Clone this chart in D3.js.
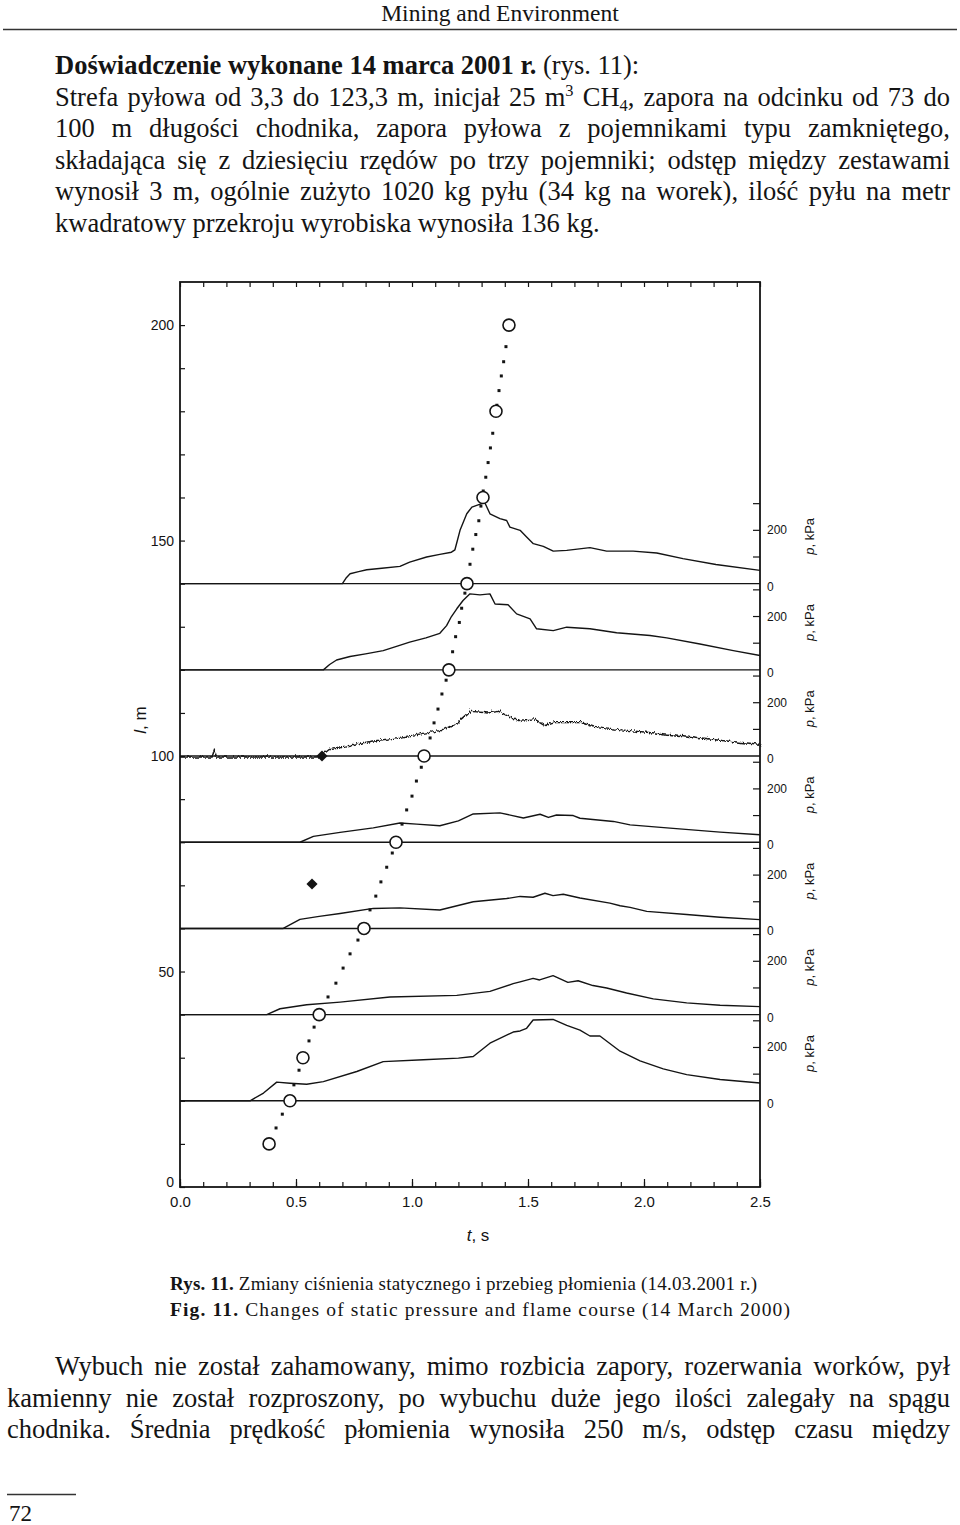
<!DOCTYPE html>
<html><head><meta charset="utf-8">
<script src="https://cdn.jsdelivr.net/npm/d3@7"></script>
<style>body{margin:0;background:#fff} svg{display:block} text{white-space:pre}</style>
</head><body>
<svg id="page" width="960" height="1525"></svg>
<script>
// ---------------- DATA ----------------
const tTickLabels = [0.0, 0.5, 1.0, 1.5, 2.0, 2.5];
const lTickLabels = [0, 50, 100, 150, 200];
const pTickMarks = [100, 200, 300];
const pTickLabels = [0, 200];
const sensorPositions = [140, 120, 100, 80, 60, 40, 20]; // m, baseline of each pressure trace

// pressure traces [t (s), p (kPa)], top to bottom
const trace140 = [[0,0],[0.70,0],[0.715,20],[0.733,37],[0.77,45],[0.805,52],[0.87,58],[0.948,65],[0.99,81],[1.063,100],[1.12,110],[1.17,118],[1.185,127],[1.195,160],[1.207,200],[1.236,262],[1.258,287],[1.306,302],[1.316,300],[1.336,262],[1.379,244],[1.408,237],[1.422,212],[1.466,200],[1.494,175],[1.523,150],[1.566,140],[1.609,122],[1.667,125],[1.767,135],[1.839,122],[1.953,122],[2.055,115],[2.168,94],[2.31,72],[2.5,50]];
const trace120 = [[0,0],[0.618,0],[0.645,20],[0.675,37],[0.733,50],[0.80,60],[0.876,72],[0.94,90],[0.99,104],[1.06,120],[1.12,137],[1.149,166],[1.17,200],[1.193,229],[1.22,260],[1.25,285],[1.293,281],[1.336,285],[1.358,247],[1.414,244],[1.451,210],[1.509,191],[1.537,154],[1.609,147],[1.667,160],[1.767,154],[1.882,139],[2.026,129],[2.098,120],[2.241,97],[2.385,72],[2.5,54]];
const trace100 = [[0,0],[0.13,0],[0.14,30],[0.15,0],[0.59,0],[0.633,31],[0.70,40],[0.76,50],[0.83,60],[0.905,69],[1.0,82],[1.12,100],[1.193,131],[1.25,175],[1.322,169],[1.365,175],[1.451,137],[1.522,143],[1.565,121],[1.608,133],[1.724,133],[1.78,115],[1.897,102],[2.04,90],[2.184,78],[2.328,62],[2.5,47]];
const trace80 = [[0,0],[0.517,0],[0.575,22],[0.69,37],[0.833,54],[0.948,72],[1.02,68],[1.12,62],[1.20,80],[1.264,106],[1.379,110],[1.48,91],[1.552,105],[1.588,93],[1.623,102],[1.695,100],[1.724,90],[1.868,78],[1.94,65],[2.112,53],[2.328,38],[2.5,28]];
const trace60 = [[0,0],[0.445,0],[0.517,34],[0.60,45],[0.69,56],[0.833,75],[0.948,77],[1.12,69],[1.264,100],[1.408,112],[1.466,120],[1.522,117],[1.573,132],[1.608,123],[1.652,128],[1.724,114],[1.853,95],[1.897,85],[1.94,79],[2.012,64],[2.184,52],[2.328,42],[2.5,33]];
const trace40 = [[0,0],[0.374,0],[0.431,22],[0.546,37],[0.69,47],[0.905,66],[1.193,72],[1.336,87],[1.436,116],[1.466,123],[1.522,136],[1.55,130],[1.608,146],[1.672,121],[1.716,127],[1.78,109],[1.839,100],[1.925,81],[2.04,59],[2.184,44],[2.328,35],[2.5,30]];
const trace20 = [[0,0],[0.302,0],[0.36,29],[0.417,70],[0.474,66],[0.546,62],[0.618,72],[0.762,110],[0.876,147],[1.049,154],[1.20,160],[1.264,166],[1.336,216],[1.436,258],[1.466,262],[1.494,272],[1.522,303],[1.608,305],[1.667,283],[1.724,265],[1.767,243],[1.81,243],[1.897,186],[1.983,150],[2.083,120],[2.184,98],[2.328,80],[2.5,67]];
const traces = [trace140, trace120, trace100, trace80, trace60, trace40, trace20];

// flame front: sensor circles [t (s), l (m)]
const flameCircles = [[0.384,10],[0.474,20],[0.530,30],[0.600,40],[0.793,60],[0.931,80],[1.052,100],[1.159,120],[1.237,140],[1.306,160],[1.362,180],[1.418,200]];
// dotted flame course [t, l]
const flameDots = [[0.414,13.7],[0.441,16.9],[0.491,23.7],[0.513,27.1],[0.556,33.9],[0.578,37.1],[0.638,44.1],[0.672,47.3],[0.703,50.8],[0.733,54.1],[0.767,57.3],[0.819,64.3],[0.844,67.5],[0.866,70.8],[0.891,74.2],[0.915,77.5],[0.957,84.2],[0.977,87.5],[1.0,90.7],[1.019,94.2],[1.04,97.4],[1.078,104.2],[1.095,107.7],[1.112,110.9],[1.129,114.4],[1.147,117.6],[1.175,124.2],[1.188,127.7],[1.204,131.0],[1.214,134.3],[1.228,137.8],[1.25,144.5],[1.262,148.0],[1.275,151.4],[1.288,154.6],[1.297,158.0],[1.307,161.5],[1.318,164.7],[1.328,168.1],[1.338,171.5],[1.348,174.9],[1.366,181.4],[1.375,184.8],[1.385,188.2],[1.395,191.5],[1.405,195.0]];
const diamonds = [[0.612,100],[0.569,70.3]];

// page text
const headerText = "Mining and Environment";
const topLines = [
  [{t:"Doświadczenie wykonane 14 marca 2001 r.", b:true},{t:" (rys. 11):"}],
  [{t:"Strefa pyłowa od 3,3 do 123,3 m, inicjał 25 m"},{t:"3", sup:true},{t:" CH"},{t:"4", sub:true},{t:", zapora na odcinku od 73 do"}],
  [{t:"100 m długości chodnika, zapora pyłowa z pojemnikami typu zamkniętego,"}],
  [{t:"składająca się z dziesięciu rzędów po trzy pojemniki; odstęp między zestawami"}],
  [{t:"wynosił 3 m, ogólnie zużyto 1020 kg pyłu (34 kg na worek), ilość pyłu na metr"}],
  [{t:"kwadratowy przekroju wyrobiska wynosiła 136 kg."}]
];
const captionLines = [
  [{t:"Rys. 11.", b:true},{t:" Zmiany ciśnienia statycznego i przebieg płomienia (14.03.2001 r.)"}],
  [{t:"Fig. 11.", b:true},{t:" Changes of static pressure and flame course (14 March 2000)"}]
];
const bottomLines = [
  [{t:"Wybuch nie został zahamowany, mimo rozbicia zapory, rozerwania worków, pył"}],
  [{t:"kamienny nie został rozproszony, po wybuchu duże jego ilości zalegały na spągu"}],
  [{t:"chodnika. Średnia prędkość płomienia wynosiła 250 m/s, odstęp czasu między"}]
];
const pageNumber = "72";

// ---------------- DRAW ----------------
const svg = d3.select("#page");
const SERIF = "'Liberation Serif','Times New Roman',serif";
const SANS = "'Liberation Sans',Arial,sans-serif";
const INK = "#141414";

function textLine(segs, x0, yb, size, width, mode) {
  const t = svg.append("text").attr("x", x0).attr("y", yb)
    .attr("font-family", SERIF).attr("font-size", size).attr("fill", INK);
  segs.forEach(s => {
    const ts = t.append("tspan").text(s.t);
    if (s.b) ts.attr("font-weight", "bold");
    if (s.sup) ts.attr("font-size", size * 0.62).attr("baseline-shift", size * 0.38);
    if (s.sub) ts.attr("font-size", size * 0.62).attr("baseline-shift", -size * 0.18);
  });
  if (width) {
    const len = t.node().getComputedTextLength();
    const full = segs.map(s => s.t).join("");
    if (mode === "letters") {
      t.style("letter-spacing", ((width - len) / (full.length - 1)) + "px");
    } else {
      const n = (full.match(/ /g) || []).length;
      if (n) t.style("word-spacing", ((width - len) / n) + "px");
    }
  }
  return t;
}

// header
svg.append("text").attr("x", 500).attr("y", 21).attr("text-anchor", "middle")
  .attr("font-family", SERIF).attr("font-size", 23.5).attr("fill", INK).text(headerText);
svg.append("line").attr("x1", 3).attr("x2", 957).attr("y1", 29.5).attr("y2", 29.5)
  .attr("stroke", "#333").attr("stroke-width", 1.6);

topLines.forEach((segs, i) => {
  const justify = (i > 0 && i < topLines.length - 1) ? 895 : null;
  textLine(segs, 55, 74 + i * 31.6, 26.5, justify);
});

captionLines.forEach((segs, i) => {
  textLine(segs, 170, 1290 + i * 26, i === 0 ? 19 : 19.5, i === 0 ? 587 : 620, "letters");
});

bottomLines.forEach((segs, i) => {
  if (i === 0) textLine(segs, 55, 1375, 26.5, 895);
  else textLine(segs, 7, 1375 + i * 31.6, 26.5, 943);
});

svg.append("line").attr("x1", 7).attr("x2", 76).attr("y1", 1494.5).attr("y2", 1494.5)
  .attr("stroke", "#333").attr("stroke-width", 1.4);
svg.append("text").attr("x", 9).attr("y", 1521).attr("font-family", SERIF)
  .attr("font-size", 23).attr("fill", INK).text(pageNumber);

// ---------- chart ----------
const x = d3.scaleLinear().domain([0, 2.5]).range([180, 760]);
const y = d3.scaleLinear().domain([0, 210]).range([1187, 282]);
const pz = d3.scaleLinear().domain([0, 300]).range([0, 80]);

const defs = svg.append("defs");
const f = defs.append("filter").attr("id", "ripple").attr("x", "-2%").attr("y", "-20%").attr("width", "104%").attr("height", "140%");
f.append("feTurbulence").attr("type", "turbulence").attr("baseFrequency", "0.45 0.08").attr("numOctaves", 1).attr("seed", 3).attr("result", "n");
f.append("feDisplacementMap").attr("in", "SourceGraphic").attr("in2", "n").attr("scale", 4).attr("xChannelSelector", "R").attr("yChannelSelector", "G");

const chart = svg.append("g").attr("font-family", SANS).attr("fill", INK);

function styleAxis(sel) {
  sel.select(".domain").remove();
  sel.selectAll(".tick line").attr("stroke", INK).attr("stroke-width", 1.2);
  sel.selectAll(".tick text").attr("fill", INK);
}
chart.append("g").attr("transform", `translate(0,${y(0)})`)
  .call(d3.axisBottom(x).tickValues(x.ticks(25)).tickSize(-5).tickFormat(""))
  .call(styleAxis);
chart.append("g").attr("transform", `translate(0,${y(0)})`)
  .call(d3.axisBottom(x).tickValues(tTickLabels).tickSize(-8).tickPadding(9).tickFormat(d3.format(".1f")))
  .call(styleAxis)
  .selectAll("text").attr("font-size", 15).attr("font-family", SANS);
chart.append("g").attr("transform", `translate(0,${y(210)})`)
  .call(d3.axisTop(x).tickValues(x.ticks(25)).tickSize(-5).tickFormat(""))
  .call(styleAxis);
chart.append("g").attr("transform", `translate(${x(0)},0)`)
  .call(d3.axisLeft(y).tickValues(y.ticks(21).filter(v => v < 210)).tickSize(-5).tickFormat(""))
  .call(styleAxis);
const leftLab = chart.append("g").attr("transform", `translate(${x(0)},0)`)
  .call(d3.axisLeft(y).tickValues(lTickLabels).tickSize(0).tickPadding(6))
  .call(styleAxis);
leftLab.selectAll("text").attr("font-size", 14).attr("font-family", SANS)
  .attr("dy", d => d === 0 ? "-0.05em" : "0.32em");

// frame
chart.append("rect").attr("x", x(0)).attr("y", y(210)).attr("width", x(2.5) - x(0)).attr("height", y(0) - y(210))
  .attr("fill", "none").attr("stroke", INK).attr("stroke-width", 1.8);

// right pressure axes
sensorPositions.forEach(s => {
  const b = y(s);
  pTickMarks.forEach(p => {
    chart.append("line").attr("x1", x(2.5)).attr("x2", x(2.5) - 7)
      .attr("y1", b - pz(p)).attr("y2", b - pz(p)).attr("stroke", INK).attr("stroke-width", 1.2);
  });
  pTickLabels.forEach(p => {
    chart.append("text").attr("x", x(2.5) + 7).attr("y", b - pz(p) + (p === 0 ? 3 : 0))
      .attr("dominant-baseline", "central").attr("font-size", 12).text(p);
  });
  const lab = chart.append("text").attr("transform", `translate(${x(2.5) + 49},${b - pz(200) + 6}) rotate(-90)`)
    .attr("text-anchor", "middle").attr("dominant-baseline", "central").attr("font-size", 13);
  lab.append("tspan").attr("font-style", "italic").text("p");
  lab.append("tspan").text(", kPa");
});

// baselines
chart.selectAll("line.base").data(sensorPositions).enter().append("line")
  .attr("x1", x(0)).attr("x2", x(2.5)).attr("y1", d => y(d)).attr("y2", d => y(d))
  .attr("stroke", INK).attr("stroke-width", 1.4);

// traces
traces.forEach((tr, i) => {
  const b = y(sensorPositions[i]);
  const ln = d3.line().x(d => x(d[0])).y(d => b - pz(d[1]));
  const p = chart.append("path").attr("d", ln(tr)).attr("fill", "none")
    .attr("stroke", INK).attr("stroke-width", 1.4).attr("stroke-linejoin", "round");
  if (i === 2) p.attr("filter", "url(#ripple)");
});

// flame dots
chart.selectAll("rect.dot").data(flameDots).enter().append("rect")
  .attr("x", d => x(d[0]) - 1.5).attr("y", d => y(d[1]) - 1.5).attr("width", 3).attr("height", 3)
  .attr("fill", INK);

// circles
chart.selectAll("circle.fc").data(flameCircles).enter().append("circle")
  .attr("cx", d => x(d[0])).attr("cy", d => y(d[1])).attr("r", 6)
  .attr("fill", "#fff").attr("stroke", INK).attr("stroke-width", 1.6);

// diamonds
chart.selectAll("path.dia").data(diamonds).enter().append("path")
  .attr("d", d3.symbol(d3.symbolSquare, 62)())
  .attr("transform", d => `translate(${x(d[0])},${y(d[1])}) rotate(45)`)
  .attr("fill", INK);

// axis titles
const lt = chart.append("text").attr("transform", `translate(140,720) rotate(-90)`)
  .attr("text-anchor", "middle").attr("dominant-baseline", "central").attr("font-size", 17);
lt.append("tspan").attr("font-style", "italic").text("l");
lt.append("tspan").text(", m");
const tt = chart.append("text").attr("x", 478).attr("y", 1241).attr("text-anchor", "middle").attr("font-size", 17);
tt.append("tspan").attr("font-style", "italic").text("t");
tt.append("tspan").text(", s");
</script>
</body></html>
